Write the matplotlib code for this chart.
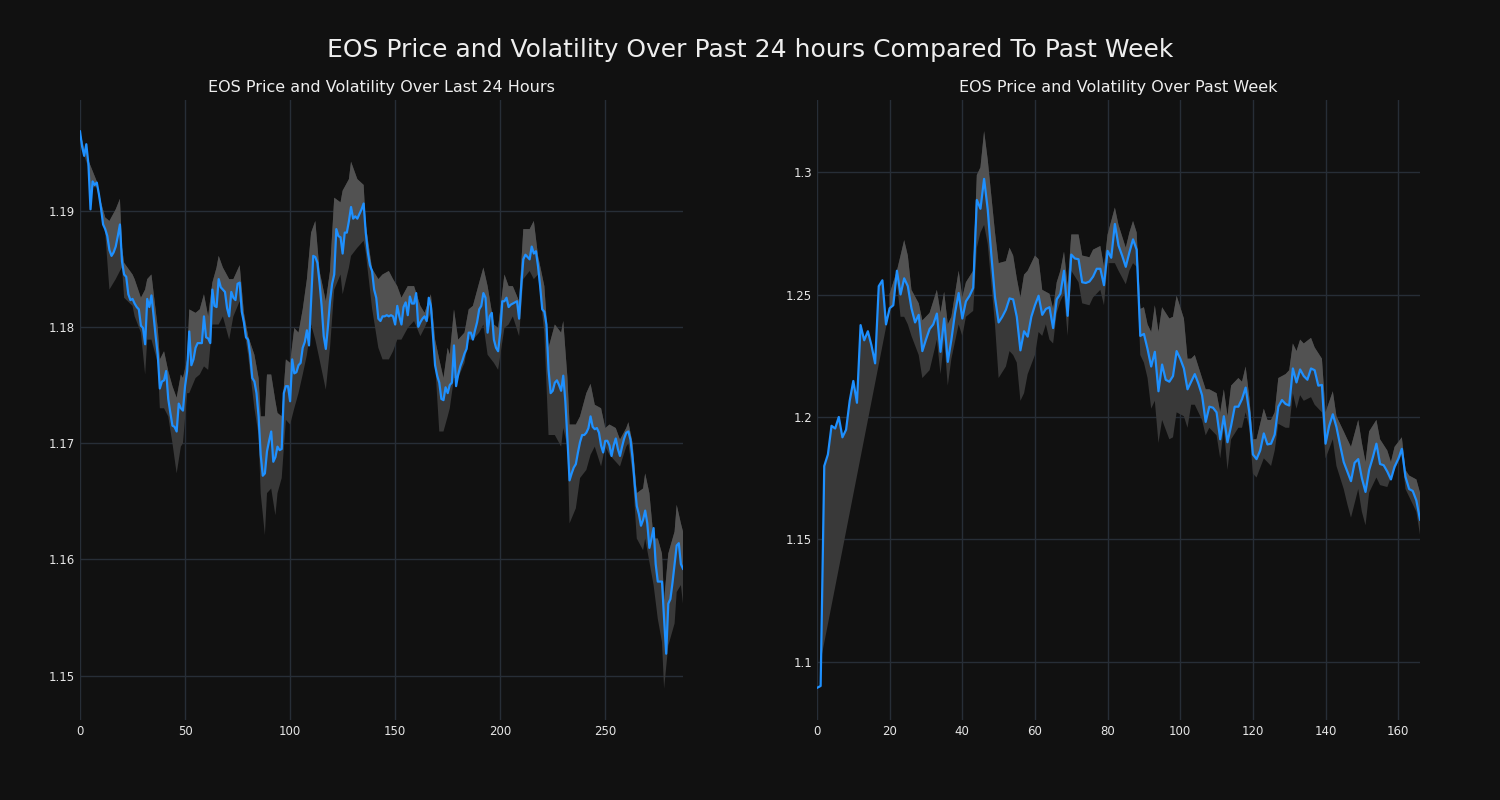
import numpy as np
import matplotlib
matplotlib.use('Agg')
import matplotlib.pyplot as plt
from matplotlib.ticker import FormatStrFormatter

# last 24 hours, one point per 5 minutes
day_price = [
    1.1968, 1.1955, 1.1947, 1.1957, 1.1940, 1.1901, 1.1925, 1.1922, 1.1924, 1.1914,
    1.1902, 1.1888, 1.1884, 1.1878, 1.1866, 1.1861, 1.1864, 1.1869, 1.1878, 1.1888,
    1.1856, 1.1845, 1.1843, 1.1828, 1.1823, 1.1824, 1.1820, 1.1817, 1.1815, 1.1801,
    1.1799, 1.1785, 1.1824, 1.1817, 1.1827, 1.1810, 1.1792, 1.1776, 1.1747, 1.1753,
    1.1754, 1.1762, 1.1738, 1.1726, 1.1715, 1.1714, 1.1710, 1.1734, 1.1730, 1.1728,
    1.1749, 1.1762, 1.1796, 1.1767, 1.1772, 1.1782, 1.1786, 1.1786, 1.1786, 1.1809,
    1.1791, 1.1790, 1.1786, 1.1832, 1.1818, 1.1817, 1.1841, 1.1834, 1.1832, 1.1830,
    1.1816, 1.1809, 1.1830, 1.1825, 1.1823, 1.1837, 1.1838, 1.1813, 1.1804, 1.1791,
    1.1789, 1.1776, 1.1756, 1.1753, 1.1743, 1.1723, 1.1690, 1.1672, 1.1674, 1.1693,
    1.1702, 1.1710, 1.1684, 1.1688, 1.1697, 1.1694, 1.1695, 1.1743, 1.1749, 1.1749,
    1.1736, 1.1772, 1.1760, 1.1761, 1.1767, 1.1769, 1.1782, 1.1787, 1.1797, 1.1784,
    1.1822, 1.1861, 1.1860, 1.1855, 1.1838, 1.1818, 1.1792, 1.1781, 1.1800, 1.1822,
    1.1837, 1.1845, 1.1884, 1.1878, 1.1877, 1.1863, 1.1881, 1.1881, 1.1891, 1.1903,
    1.1893, 1.1895, 1.1893, 1.1897, 1.1901, 1.1906, 1.1881, 1.1864, 1.1853, 1.1848,
    1.1832, 1.1825, 1.1807, 1.1805, 1.1809, 1.1809, 1.1810, 1.1809, 1.1810, 1.1809,
    1.1802, 1.1818, 1.1809, 1.1802, 1.1817, 1.1821, 1.1810, 1.1826, 1.1820, 1.1820,
    1.1829, 1.1800, 1.1804, 1.1807, 1.1809, 1.1805, 1.1825, 1.1818, 1.1792, 1.1767,
    1.1758, 1.1752, 1.1738, 1.1737, 1.1748, 1.1743, 1.1750, 1.1752, 1.1784, 1.1749,
    1.1759, 1.1766, 1.1771, 1.1777, 1.1781, 1.1795, 1.1795, 1.1789, 1.1797, 1.1804,
    1.1815, 1.1818, 1.1829, 1.1825, 1.1795, 1.1809, 1.1812, 1.1789, 1.1782, 1.1779,
    1.1795, 1.1822, 1.1822, 1.1825, 1.1817, 1.1819, 1.1820, 1.1821, 1.1822, 1.1807,
    1.1835, 1.1858, 1.1862, 1.1860, 1.1858, 1.1869, 1.1863, 1.1865, 1.1852, 1.1835,
    1.1815, 1.1813, 1.1802, 1.1763, 1.1743, 1.1745, 1.1752, 1.1754, 1.1750, 1.1745,
    1.1758, 1.1736, 1.1703, 1.1668, 1.1674, 1.1679, 1.1682, 1.1692, 1.1701, 1.1707,
    1.1707, 1.1709, 1.1713, 1.1723, 1.1714, 1.1712, 1.1713, 1.1709, 1.1698, 1.1692,
    1.1702, 1.1702, 1.1698, 1.1689, 1.1698, 1.1704, 1.1695, 1.1689, 1.1697, 1.1704,
    1.1709, 1.1710, 1.1703, 1.1687, 1.1665, 1.1646, 1.1639, 1.1629, 1.1634, 1.1642,
    1.1631, 1.1610, 1.1618, 1.1627, 1.1596, 1.1581, 1.1581, 1.1581, 1.1549, 1.1519,
    1.1562, 1.1566, 1.1580, 1.1596, 1.1612, 1.1614, 1.1596, 1.1592,
]

# volatility band (upper / lower edge) for the 24h chart
day_band_x = [
    0, 2, 4, 6, 8, 10, 12, 14, 17, 19, 20, 21, 25, 26, 29, 31, 32, 34, 37, 38,
    40, 42, 44, 46, 48, 49, 51, 52, 55, 57, 59, 61, 63, 65, 66, 68, 71, 73, 76, 78,
    80, 83, 85, 86, 88, 89, 91, 93, 94, 96, 98, 100, 102, 104, 106, 108, 110, 112, 114, 117,
    119, 121, 124, 125, 128, 129, 132, 135, 136, 139, 142, 144, 147, 149, 151, 153, 156, 159, 162, 164,
    167, 169, 171, 173, 175, 176, 178, 180, 183, 185, 187, 190, 192, 194, 197, 199, 202, 204, 206, 209,
    211, 214, 216, 218, 221, 223, 226, 229, 230, 232, 233, 236, 238, 241, 243, 245, 248, 250, 252, 255,
    257, 260, 261, 263, 265, 268, 269, 271, 273, 275, 277, 278, 280, 283, 284, 286, 287,
]
day_upper = [
    1.1968, 1.1953, 1.1943, 1.1934, 1.1925, 1.1907, 1.1894, 1.1891, 1.1901, 1.1910,
    1.1868, 1.1855, 1.1845, 1.1841, 1.1825, 1.1832, 1.1841, 1.1845, 1.1799, 1.1772,
    1.1779, 1.1762, 1.1749, 1.1739, 1.1759, 1.1756, 1.1772, 1.1815, 1.1812, 1.1815,
    1.1828, 1.1809, 1.1838, 1.1851, 1.1861, 1.1851, 1.1841, 1.1841, 1.1853, 1.1812,
    1.1792, 1.1776, 1.1756, 1.1723, 1.1723, 1.1759, 1.1759, 1.1736, 1.1726, 1.1723,
    1.1772, 1.1769, 1.1799, 1.1795, 1.1815, 1.1841, 1.1881, 1.1891, 1.1848, 1.1822,
    1.1848, 1.1911, 1.1907, 1.1917, 1.1927, 1.1942, 1.1927, 1.1922, 1.1888, 1.1850,
    1.1841, 1.1845, 1.1848, 1.1841, 1.1835, 1.1825, 1.1835, 1.1835, 1.1818, 1.1812,
    1.1828, 1.1789, 1.1772, 1.1756, 1.1782, 1.1776, 1.1815, 1.1789, 1.1795, 1.1815,
    1.1818, 1.1838, 1.1851, 1.1835, 1.1802, 1.1799, 1.1845, 1.1835, 1.1835, 1.1822,
    1.1884, 1.1884, 1.1891, 1.1861, 1.1835, 1.1782, 1.1802, 1.1795, 1.1805, 1.1756,
    1.1716, 1.1716, 1.1723, 1.1743, 1.1751, 1.1733, 1.1730, 1.1713, 1.1716, 1.1713,
    1.1703, 1.1713, 1.1718, 1.1700, 1.1657, 1.1661, 1.1674, 1.1657, 1.1618, 1.1618,
    1.1605, 1.1565, 1.1605, 1.1624, 1.1647, 1.1631, 1.1624,
]
day_lower = [
    1.1968, 1.1947, 1.1937, 1.1920, 1.1920, 1.1901, 1.1881, 1.1832, 1.1841, 1.1848,
    1.1851, 1.1825, 1.1818, 1.1809, 1.1795, 1.1759, 1.1789, 1.1789, 1.1769, 1.1730,
    1.1730, 1.1723, 1.1700, 1.1674, 1.1697, 1.1700, 1.1743, 1.1743, 1.1756, 1.1759,
    1.1766, 1.1763, 1.1802, 1.1802, 1.1802, 1.1809, 1.1789, 1.1809, 1.1822, 1.1799,
    1.1776, 1.1730, 1.1707, 1.1657, 1.1621, 1.1657, 1.1661, 1.1638, 1.1657, 1.1670,
    1.1720, 1.1716, 1.1730, 1.1743, 1.1759, 1.1776, 1.1802, 1.1789, 1.1772, 1.1746,
    1.1782, 1.1832, 1.1845, 1.1828, 1.1851, 1.1861, 1.1868, 1.1874, 1.1864, 1.1816,
    1.1782, 1.1772, 1.1772, 1.1779, 1.1789, 1.1789, 1.1799, 1.1805, 1.1792, 1.1799,
    1.1812, 1.1769, 1.1710, 1.1710, 1.1723, 1.1730, 1.1756, 1.1756, 1.1769, 1.1789,
    1.1789, 1.1795, 1.1802, 1.1776, 1.1769, 1.1763, 1.1799, 1.1802, 1.1809, 1.1792,
    1.1841, 1.1848, 1.1841, 1.1845, 1.1795, 1.1707, 1.1707, 1.1697, 1.1713, 1.1697,
    1.1631, 1.1644, 1.1670, 1.1677, 1.1690, 1.1697, 1.1680, 1.1697, 1.1690, 1.1684,
    1.1680, 1.1697, 1.1700, 1.1674, 1.1618, 1.1608, 1.1618, 1.1598, 1.1578, 1.1549,
    1.1529, 1.1489, 1.1526, 1.1545, 1.1572, 1.1578, 1.1562,
]

# past week, hourly
week_price = [
    1.0894, 1.0902, 1.1800, 1.1847, 1.1964, 1.1953, 1.2000, 1.1917, 1.1948, 1.2066,
    1.2147, 1.2058, 1.2375, 1.2313, 1.2350, 1.2292, 1.2219, 1.2534, 1.2558, 1.2378,
    1.2444, 1.2456, 1.2597, 1.2500, 1.2566, 1.2534, 1.2444, 1.2386, 1.2417, 1.2269,
    1.2316, 1.2359, 1.2378, 1.2422, 1.2266, 1.2402, 1.2225, 1.2316, 1.2425, 1.2506,
    1.2402, 1.2472, 1.2495, 1.2527, 1.2886, 1.2850, 1.2972, 1.2847, 1.2660, 1.2488,
    1.2386, 1.2409, 1.2438, 1.2484, 1.2480, 1.2409, 1.2272, 1.2350, 1.2328, 1.2409,
    1.2456, 1.2495, 1.2417, 1.2441, 1.2448, 1.2363, 1.2480, 1.2503, 1.2597, 1.2413,
    1.2663, 1.2647, 1.2644, 1.2550, 1.2547, 1.2553, 1.2573, 1.2605, 1.2605, 1.2538,
    1.2678, 1.2650, 1.2788, 1.2700, 1.2659, 1.2613, 1.2672, 1.2725, 1.2683, 1.2331,
    1.2339, 1.2277, 1.2206, 1.2266, 1.2105, 1.2214, 1.2152, 1.2144, 1.2167, 1.2269,
    1.2238, 1.2198, 1.2113, 1.2144, 1.2175, 1.2136, 1.2089, 1.1980, 1.2042, 1.2038,
    1.2019, 1.1909, 1.2003, 1.1897, 1.1964, 1.2042, 1.2042, 1.2073, 1.2120, 1.2019,
    1.1847, 1.1828, 1.1863, 1.1933, 1.1888, 1.1891, 1.1928, 1.2042, 1.2069, 1.2053,
    1.2047, 1.2198, 1.2141, 1.2194, 1.2167, 1.2152, 1.2198, 1.2191, 1.2128, 1.2131,
    1.1891, 1.1964, 1.2011, 1.1959, 1.1886, 1.1816, 1.1777, 1.1738, 1.1813, 1.1828,
    1.1750, 1.1694, 1.1784, 1.1834, 1.1891, 1.1808, 1.1803, 1.1777, 1.1745, 1.1797,
    1.1828, 1.1870, 1.1756, 1.1706, 1.1698, 1.1659, 1.1581,
]

# band before the rolling window fills up: only its lower edge, ramps up
week_ramp_x = [1, 20]
week_ramp_low = [1.1003, 1.2441]

week_band_x = [
    20, 22, 23, 24, 25, 26, 28, 29, 31, 32, 33, 34, 35, 36, 37, 39, 40, 41, 43, 44,
    45, 46, 47, 49, 50, 52, 53, 54, 55, 56, 57, 58, 60, 61, 62, 63, 64, 65, 66, 67,
    68, 69, 70, 72, 73, 75, 76, 78, 79, 80, 82, 83, 85, 86, 87, 88, 89, 90, 91, 92,
    93, 94, 95, 97, 98, 99, 101, 102, 103, 104, 106, 107, 108, 110, 111, 112, 113, 114, 116, 117,
    118, 119, 120, 121, 123, 124, 125, 126, 127, 129, 130, 131, 132, 133, 134, 136, 137, 139, 140, 142,
    143, 145, 146, 147, 149, 150, 151, 152, 154, 155, 157, 158, 159, 161, 162, 163, 165, 166,
]
week_upper = [
    1.2503, 1.2597, 1.2659, 1.2722, 1.2659, 1.2519, 1.2464, 1.2394, 1.2425, 1.2472,
    1.2519, 1.2425, 1.2511, 1.2378, 1.2409, 1.2597, 1.2488, 1.2550, 1.2597, 1.2988,
    1.3019, 1.3167, 1.3050, 1.2753, 1.2628, 1.2636, 1.2691, 1.2659, 1.2566, 1.2488,
    1.2581, 1.2597, 1.2659, 1.2644, 1.2519, 1.2511, 1.2503, 1.2441, 1.2550, 1.2597,
    1.2675, 1.2534, 1.2745, 1.2745, 1.2659, 1.2652, 1.2683, 1.2698, 1.2613, 1.2745,
    1.2855, 1.2784, 1.2691, 1.2753, 1.2800, 1.2753, 1.2441, 1.2448, 1.2378, 1.2347,
    1.2456, 1.2347, 1.2448, 1.2402, 1.2409, 1.2495, 1.2402, 1.2238, 1.2238, 1.2253,
    1.2159, 1.2113, 1.2113, 1.2097, 1.2019, 1.2113, 1.2003, 1.2128, 1.2159, 1.2144,
    1.2206, 1.2081, 1.1909, 1.1909, 1.2034, 1.1988, 1.1988, 1.2019, 1.2159, 1.2175,
    1.2191, 1.2300, 1.2269, 1.2316, 1.2300, 1.2323, 1.2284, 1.2238, 1.2019, 1.2105,
    1.2003, 1.1941, 1.1909, 1.1878, 1.1988, 1.1894, 1.1816, 1.1941, 1.1988, 1.1909,
    1.1863, 1.1816, 1.1878, 1.1917, 1.1784, 1.1761, 1.1745, 1.1691,
]
week_lower = [
    1.2441, 1.2550, 1.2409, 1.2409, 1.2378, 1.2331, 1.2253, 1.2159, 1.2191, 1.2253,
    1.2316, 1.2175, 1.2316, 1.2128, 1.2238, 1.2378, 1.2331, 1.2409, 1.2433, 1.2691,
    1.2753, 1.2784, 1.2706, 1.2378, 1.2159, 1.2206, 1.2269, 1.2253, 1.2222, 1.2066,
    1.2097, 1.2175, 1.2253, 1.2347, 1.2331, 1.2378, 1.2316, 1.2300, 1.2425, 1.2472,
    1.2503, 1.2331, 1.2597, 1.2550, 1.2464, 1.2456, 1.2488, 1.2519, 1.2456, 1.2628,
    1.2628, 1.2597, 1.2542, 1.2597, 1.2628, 1.2613, 1.2253, 1.2222, 1.2159, 1.2034,
    1.2066, 1.1894, 1.1988, 1.1909, 1.1917, 1.2019, 1.2003, 1.1956, 1.2050, 1.2050,
    1.1988, 1.1925, 1.1956, 1.1925, 1.1831, 1.1956, 1.1784, 1.1909, 1.1956, 1.1956,
    1.2019, 1.1956, 1.1769, 1.1753, 1.1831, 1.1816, 1.1800, 1.1863, 1.1972, 1.1956,
    1.1956, 1.2097, 1.2034, 1.2089, 1.2066, 1.2081, 1.2050, 1.2019, 1.1831, 1.1909,
    1.1800, 1.1706, 1.1644, 1.1589, 1.1706, 1.1613, 1.1558, 1.1691, 1.1753, 1.1722,
    1.1714, 1.1753, 1.1784, 1.1847, 1.1706, 1.1675, 1.1613, 1.1519,
]

BG = '#111111'
LINE = '#1e90ff'
DARK = '#393939'
LIGHT = '#525252'
GRID = '#272e37'

fig = plt.figure(figsize=(15, 8), dpi=100, facecolor=BG)
ax1 = fig.add_axes([80 / 1500, 80 / 800, 603 / 1500, 620 / 800])
ax2 = fig.add_axes([817 / 1500, 80 / 800, 603 / 1500, 620 / 800])

# 24 hour chart
x = np.arange(len(day_price))
bx = np.array(day_band_x)
ax1.fill(np.r_[bx, bx[::-1]], np.r_[day_upper, day_lower[::-1]], color=DARK, lw=0)
ax1.fill(np.r_[x, bx[::-1]], np.r_[day_price, day_upper[::-1]], color=LIGHT, lw=0)
ax1.plot(x, day_price, color=LINE, lw=1.6)
ax1.set_xlim(0, len(day_price) - 1)
ax1.set_ylim(1.1462, 1.1995)
ax1.set_yticks([1.15, 1.16, 1.17, 1.18, 1.19])
ax1.set_title('EOS Price and Volatility Over Last 24 Hours', color='#eeeeee', fontsize=11.5)

# week chart
wx = np.arange(len(week_price))
wbx = np.array(week_band_x)
s = week_band_x[0]
ax2.fill(np.r_[wx[1:s + 1], week_ramp_x[::-1]],
         np.r_[week_price[1:s + 1], week_ramp_low[::-1]], color=DARK, lw=0)
ax2.fill(np.r_[wbx, wbx[::-1]], np.r_[week_upper, week_lower[::-1]], color=DARK, lw=0)
ax2.fill(np.r_[wx[s:], wbx[::-1]], np.r_[week_price[s:], week_upper[::-1]], color=LIGHT, lw=0)
ax2.plot(wx, week_price, color=LINE, lw=1.6)
ax2.set_xlim(0, len(week_price) - 1)
ax2.set_ylim(1.0763, 1.3294)
ax2.set_yticks([1.1, 1.15, 1.2, 1.25, 1.3])
ax2.yaxis.set_major_formatter(FormatStrFormatter('%g'))
ax2.set_title('EOS Price and Volatility Over Past Week', color='#eeeeee', fontsize=11.5)

for ax in (ax1, ax2):
    ax.set_facecolor(BG)
    ax.grid(True, color=GRID, lw=1)
    ax.set_axisbelow(True)
    for sp in ax.spines.values():
        sp.set_visible(False)
    ax.tick_params(length=0, colors='#e6e6e6', labelsize=8.5)

fig.suptitle('EOS Price and Volatility Over Past 24 hours Compared To Past Week',
             color='#eeeeee', fontsize=18, y=0.9375, va='center')

fig.savefig('out.png', facecolor=BG)
